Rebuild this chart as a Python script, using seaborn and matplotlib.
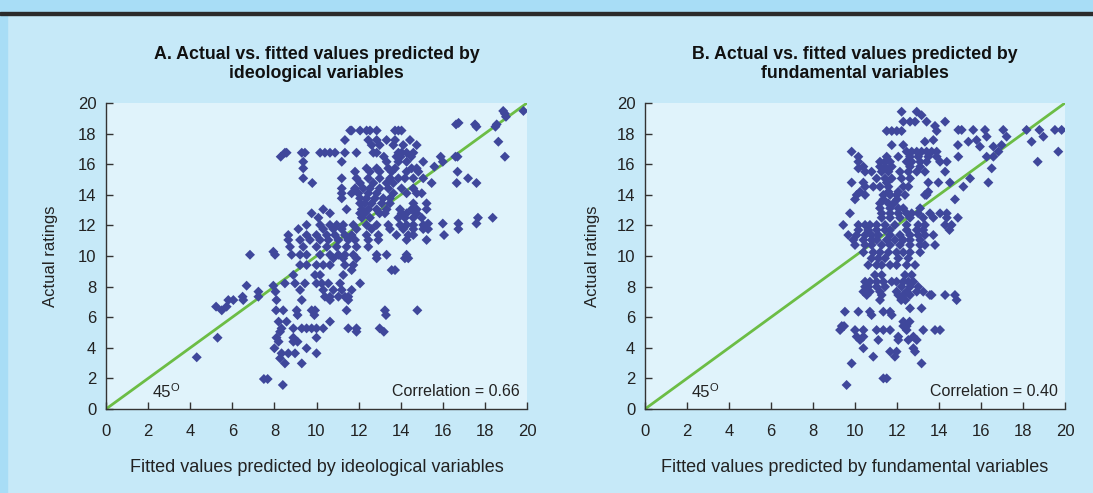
import numpy as np
import pandas as pd
import matplotlib
matplotlib.use("Agg")
import matplotlib.pyplot as plt
import seaborn as sns

rows_a = [
    (19.48, [18.87, 19.83]),
    (19.3, [18.95]),
    (19.1, [19.0]),
    (18.7, [16.75]),
    (18.6, [16.63, 17.53, 18.56]),
    (18.45, [17.6, 18.5]),
    (18.2, [11.6, 11.67, 12.07, 12.38, 12.54, 12.86, 13.73, 13.89, 14.04]),
    (17.58, [11.35, 12.46, 12.86, 13.33, 13.73, 14.44]),
    (17.47, [18.64]),
    (17.25, [12.62, 13.0, 13.65, 14.12, 14.76]),
    (16.75, [8.5, 8.58, 9.3, 9.45, 10.17, 10.4, 10.64, 10.88, 11.35, 11.9, 12.7, 12.86, 13.89, 14.04, 14.28, 14.6]),
    (16.49, [8.3, 13.2, 13.8, 14.0, 14.5, 15.9, 16.6, 16.7, 18.95]),
    (16.16, [9.37, 11.2, 13.33, 13.89, 14.28, 15.07, 16.0]),
    (15.84, [15.6]),
    (15.73, [9.37, 12.38, 12.86, 13.41, 13.73, 14.52, 14.76]),
    (15.51, [11.83, 12.54, 13.0, 13.57, 14.28, 14.84, 16.7]),
    (15.08, [9.37, 11.2, 11.9, 12.46, 13.0, 13.5, 13.89, 14.2, 14.6, 15.07, 17.2]),
    (14.77, [9.8, 12.07, 12.7, 13.33, 13.65, 15.47, 16.66, 17.6]),
    (14.42, [11.2, 11.83, 12.22, 12.54, 13.0, 13.41, 14.04, 14.6]),
    (14.1, [11.2, 11.67, 11.99, 12.46, 12.86, 13.65, 14.28, 14.76, 15.0]),
    (13.77, [11.2, 12.07, 12.38, 12.78, 13.17, 13.49]),
    (13.44, [12.07, 12.3, 12.62, 13.1, 13.49, 14.6, 15.23]),
    (13.05, [10.32, 11.43, 12.15, 12.46, 12.86, 13.33, 13.97, 14.52, 14.76, 15.23]),
    (12.79, [9.77, 10.64, 12.07, 12.3, 13.0, 13.25, 14.04, 14.28, 14.76]),
    (12.5, [10.09, 12.15, 12.54, 13.89, 14.2, 14.6, 15.0, 17.67, 18.37]),
    (12.12, [15.3, 16.0, 16.74, 17.6]),
    (12.03, [9.53, 10.17, 10.64, 10.96, 11.27, 11.75, 12.38, 12.86, 13.41, 13.97, 14.28, 14.6, 15.07]),
    (11.76, [9.14, 10.32, 10.8, 11.2, 11.9, 12.62, 13.49, 14.12, 14.6, 15.07, 15.3, 16.74]),
    (11.37, [8.66, 9.53, 10.0, 10.49, 10.88, 11.35, 11.67, 12.38, 12.94, 13.8, 14.36, 14.6, 16.06]),
    (11.05, [8.66, 9.22, 9.69, 10.17, 10.56, 11.04, 11.51, 11.83, 12.46, 12.94, 14.28, 15.23]),
    (10.6, [8.74, 9.37, 10.0, 10.49, 10.96, 11.43, 11.9, 12.46]),
    (10.28, [7.95]),
    (10.08, [6.84, 8.03, 8.82, 9.22, 9.53, 10.17, 10.64, 11.04, 11.35, 11.75, 12.86, 13.33, 14.28]),
    (9.85, [10.8, 11.27, 11.9, 12.86, 14.2, 14.36]),
    (9.41, [9.22, 9.53, 10.0, 10.32, 10.64, 11.35, 11.75]),
    (9.08, [11.67, 13.57, 13.73]),
    (8.76, [8.9, 9.93, 10.17, 11.27]),
    (8.21, [8.5, 8.98, 9.45, 10.0, 10.25, 10.56, 11.12, 12.07]),
    (8.06, [6.68, 7.95]),
    (7.78, [9.22, 10.32, 10.8, 11.2, 11.67]),
    (7.67, [7.24, 8.05]),
    (7.34, [6.49, 7.24, 10.4, 10.64, 11.04, 11.35, 11.51]),
    (7.12, [5.81, 6.05, 6.52, 8.1, 9.3, 10.64, 11.51]),
    (6.69, [5.23, 5.73]),
    (6.45, [5.5, 8.08, 8.42, 9.06, 9.77, 9.93, 11.43, 13.25, 14.79]),
    (6.14, [9.1, 9.9, 13.3]),
    (5.71, [8.2, 8.58, 10.64]),
    (5.27, [8.34, 8.9, 9.3, 9.53, 9.77, 10.0, 10.32, 11.51, 11.9, 13.0]),
    (5.05, [8.27, 11.9, 13.2]),
    (4.66, [5.3, 8.1, 8.9, 10.0]),
    (4.4, [8.2, 8.9, 9.1]),
    (3.97, [8.0, 9.53]),
    (3.64, [8.34, 8.66, 8.98, 10.0]),
    (3.38, [4.31]),
    (3.31, [8.27]),
    (2.98, [8.5, 9.3]),
    (1.96, [7.5, 7.68]),
    (1.57, [8.4]),
]

rows_b = [
    (19.43, [12.22, 12.94]),
    (19.2, [13.17]),
    (18.78, [12.3, 12.62, 12.86, 13.41, 14.29]),
    (18.5, [13.81]),
    (18.24, [14.92, 15.08, 15.63, 16.19, 17.06, 18.17, 18.78, 19.52, 19.84]),
    (18.17, [11.51, 11.75, 11.99, 12.22, 13.89]),
    (17.8, [16.27, 17.22, 18.97]),
    (17.58, [13.73, 15.79]),
    (17.47, [13.33, 15.4, 18.41]),
    (17.25, [11.75, 12.3, 14.9, 16.98]),
    (17.15, [15.95, 16.59]),
    (16.82, [9.84, 12.46, 12.7, 12.94, 13.17, 13.41, 13.65, 13.89, 16.83, 19.68]),
    (16.49, [10.16, 11.51, 12.06, 12.62, 13.01, 13.49, 13.89, 14.92, 16.27, 16.59]),
    (16.16, [10.16, 11.19, 11.43, 11.67, 12.46, 12.7, 13.1, 13.41, 14.05, 14.37, 18.7]),
    (15.84, [10.4, 11.19, 11.43, 11.75, 12.62, 13.1]),
    (15.73, [10.16, 16.51]),
    (15.51, [10.48, 10.79, 11.27, 11.59, 12.14, 12.54, 12.94, 13.33, 14.29]),
    (15.07, [11.03, 11.43, 11.75, 12.22, 12.62, 15.48]),
    (14.8, [9.84, 10.4, 11.51, 13.49, 13.97, 14.52, 16.35]),
    (14.53, [10.48, 10.87, 11.19, 11.59, 12.3, 12.54, 15.16]),
    (14.2, [10.24, 11.59, 12.06, 13.49]),
    (13.99, [10.08, 10.48, 11.35, 11.67, 11.99, 12.38, 13.33, 13.41]),
    (13.7, [10.0, 11.35, 12.0, 14.76]),
    (13.44, [11.19, 11.59, 11.83]),
    (13.12, [11.19, 11.67, 12.06, 12.3, 13.1]),
    (12.79, [9.76, 11.27, 11.67, 12.06, 12.46, 12.7, 13.01, 13.57, 14.05, 14.37]),
    (12.5, [11.27, 11.67, 12.14, 12.62, 13.25, 13.73, 14.37, 14.9]),
    (12.03, [9.44, 10.16, 10.48, 10.71, 11.03, 11.43, 11.9, 12.46, 13.01, 13.33, 14.29, 14.6]),
    (11.7, [10.16, 10.63, 11.03, 11.43, 11.67, 12.46, 12.94, 13.25, 14.5]),
    (11.37, [9.68, 10.08, 10.48, 10.79, 11.11, 11.67, 12.14, 12.62, 13.01, 13.33, 13.73]),
    (11.05, [9.92, 10.4, 10.79, 11.03, 11.51, 11.9, 12.3, 12.62, 13.1]),
    (10.72, [10.0, 10.48, 10.79, 11.27, 11.67, 12.14, 12.62, 13.1, 13.33, 13.81]),
    (10.24, [10.4, 10.87, 11.19, 11.59, 11.98, 12.3, 12.62, 13.1]),
    (9.85, [10.79, 11.11, 11.43, 12.06, 12.54]),
    (9.41, [10.63, 11.03, 11.27, 11.67, 11.98, 12.46, 12.86]),
    (8.76, [10.95, 11.27, 12.38, 12.7]),
    (8.32, [10.48, 10.71, 11.03, 11.35, 11.75, 11.98, 12.3, 12.54, 12.78]),
    (7.99, [10.48, 10.63, 11.03, 11.43, 12.22, 12.62, 13.01]),
    (7.67, [10.4, 10.71, 11.19, 11.98, 12.46, 12.94, 13.25]),
    (7.45, [10.56, 11.27, 12.06, 12.3, 12.62, 13.57, 13.65, 14.29, 14.76]),
    (7.12, [11.19, 12.2, 12.4, 14.84]),
    (6.58, [12.62, 13.17]),
    (6.36, [9.52, 10.16, 10.71, 11.35, 11.67]),
    (6.14, [10.79, 11.75]),
    (5.71, [12.3, 12.6]),
    (5.42, [9.37, 9.48, 12.3, 12.46]),
    (5.16, [9.29, 10.0, 10.4, 11.03, 11.35, 11.67, 12.46, 13.25, 13.81, 14.05]),
    (4.73, [10.08, 10.4, 12.06, 12.78]),
    (4.51, [10.24, 11.11, 12.06, 12.54, 12.94]),
    (3.97, [10.4, 12.78]),
    (3.75, [11.67, 11.98, 12.86]),
    (3.42, [10.87, 11.9]),
    (2.98, [9.84, 13.17]),
    (2.0, [11.35, 11.51]),
    (1.57, [9.6]),
]

titles = ["A. Actual vs. fitted values predicted by\nideological variables",
          "B. Actual vs. fitted values predicted by\nfundamental variables"]
xlabels = ["Fitted values predicted by ideological variables",
           "Fitted values predicted by fundamental variables"]
correlations = ["Correlation = 0.66", "Correlation = 0.40"]
diag = [0, 20]
ticks = list(range(0, 21, 2))


def to_frame(rows):
    fit = [x for y, xs in rows for x in xs]
    act = [y for y, xs in rows for x in xs]
    return pd.DataFrame({"fitted": fit, "actual": act})


sns.set_style("ticks")
plt.rcParams["font.family"] = ["Liberation Sans", "DejaVu Sans"]

bg = "#c6e9f8"
fig = plt.figure(figsize=(10.93, 4.93), dpi=100, facecolor=bg)

# franja superior y lateral del recuadro
fig.add_artist(plt.Rectangle((0, 1 - 12 / 493), 1, 12 / 493, transform=fig.transFigure,
                             color="#a8ddf6", zorder=0))
fig.add_artist(plt.Rectangle((0, 0), 7 / 1093, 1, transform=fig.transFigure,
                             color="#a8ddf6", zorder=0))
fig.add_artist(plt.Rectangle((0, 1 - 15 / 493), 1, 3 / 493, transform=fig.transFigure,
                             color="#2b2b2b", zorder=1))

boxes = [[106 / 1093, 84 / 493, 421 / 1093, 306 / 493],
         [645 / 1093, 84 / 493, 420 / 1093, 306 / 493]]
ylab_x = [-0.114, -0.107]

for i, rows in enumerate([rows_a, rows_b]):
    ax = fig.add_axes(boxes[i])
    ax.set_facecolor("#e0f3fb")
    df = to_frame(rows)
    sns.lineplot(x=diag, y=diag, ax=ax, color="#6cbd45", linewidth=2, zorder=2)
    sns.scatterplot(data=df, x="fitted", y="actual", ax=ax, marker="D", s=26,
                    color="#3f479b", edgecolor="none", linewidth=0, zorder=3)
    ax.set_xlim(0, 20)
    ax.set_ylim(0, 20)
    ax.set_xticks(ticks)
    ax.set_yticks(ticks)
    for s in ["top", "right"]:
        ax.spines[s].set_visible(False)
    for s in ["left", "bottom"]:
        ax.spines[s].set_color("#333333")
        ax.spines[s].set_linewidth(1)
    ax.tick_params(direction="in", length=5, width=1, color="#333333",
                   labelcolor="#222222", labelsize=12)
    ax.tick_params(axis="x", pad=11)
    ax.tick_params(axis="y", pad=7)
    ax.set_title(titles[i], fontsize=12.8, fontweight="bold", color="#111111",
                 pad=18, linespacing=1.15)
    ax.set_xlabel(xlabels[i], fontsize=13, color="#222222")
    ax.set_ylabel("Actual ratings", fontsize=12, color="#222222")
    ax.xaxis.set_label_coords(0.5, -0.163)
    ax.yaxis.set_label_coords(ylab_x[i], 0.5)
    ax.text(2.2, 0.78, "45", fontsize=12, color="#222222", va="baseline")
    ax.text(3.05, 1.2, "O", fontsize=8, color="#222222", va="baseline")
    ax.text(19.67, 1.13, correlations[i], fontsize=11.5, color="#222222",
            ha="right", va="center")

plt.savefig("out.png", dpi=100, facecolor=bg)
